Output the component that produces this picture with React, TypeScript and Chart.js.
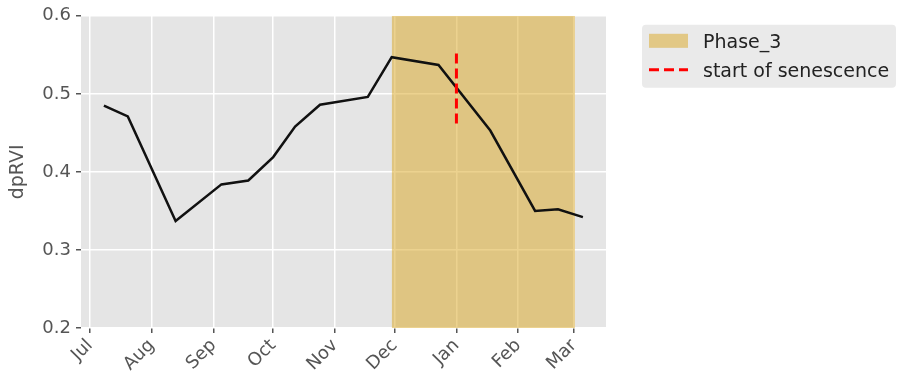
import React, { useEffect, useRef } from 'react';
import { Chart, registerables } from 'chart.js';

Chart.register(...registerables);

// ---- Data ----
const monthLabels = ['Jul', 'Aug', 'Sep', 'Oct', 'Nov', 'Dec', 'Jan', 'Feb', 'Mar'];
// days since 1 July for the first day of each month
const monthStartDays = [0, 31, 62, 92, 123, 153, 184, 215, 243];
// observation dates (days since 1 July)
const obsDays = [7, 19, 43, 66, 79.5, 92, 103, 115.5, 139.5, 151.5, 175, 201, 223.5, 235, 247.5];
const dpRVI = [0.485, 0.471, 0.337, 0.384, 0.389, 0.419, 0.458, 0.486, 0.496, 0.547, 0.537, 0.453, 0.35, 0.352, 0.342];
const phase3Start = 151.5;
const phase3End = 243.5;
const senescenceDay = 184;
const senescenceLow = 0.462;
const senescenceHigh = 0.553;
const yMin = 0.2;
const yMax = 0.6;
const xMin = -4.5;
const xMax = 259.1;

const FONT = "'DejaVu Sans', sans-serif";
const PHASE_COLOR = 'rgba(218,165,32,0.5)';

const bgPlugin = {
  id: 'ggBackground',
  beforeDraw(chart: any) {
    const { ctx, chartArea } = chart;
    ctx.save();
    ctx.fillStyle = '#e5e5e5';
    ctx.fillRect(chartArea.left, chartArea.top, chartArea.right - chartArea.left, chartArea.bottom - chartArea.top);
    ctx.restore();
  },
};

const legendPlugin = {
  id: 'boxLegend',
  afterDraw(chart: any) {
    const { ctx, chartArea } = chart;
    const ds = chart.data.datasets;
    const x = chartArea.right + 36;
    const y = chartArea.top + 9;
    const w = 254;
    const h = 63;
    ctx.save();
    ctx.fillStyle = '#eaeaea';
    ctx.beginPath();
    ctx.roundRect(x, y, w, h, 4);
    ctx.fill();

    // Phase_3 patch
    ctx.fillStyle = ds[2].backgroundColor;
    ctx.fillRect(x + 7, y + 9, 39, 14);

    // senescence dashed line
    ctx.strokeStyle = ds[0].borderColor;
    ctx.lineWidth = 3;
    ctx.setLineDash([10, 5]);
    ctx.beginPath();
    ctx.moveTo(x + 7, y + 45);
    ctx.lineTo(x + 46, y + 45);
    ctx.stroke();
    ctx.setLineDash([]);

    ctx.fillStyle = '#222';
    ctx.font = `19px ${FONT}`;
    ctx.textBaseline = 'alphabetic';
    ctx.textAlign = 'left';
    ctx.fillText(ds[2].label, x + 61, y + 23);
    ctx.fillText(ds[0].label, x + 61, y + 52);
    ctx.restore();
  },
};

export default function App() {
  const canvasRef = useRef<HTMLCanvasElement | null>(null);

  useEffect(() => {
    if (!canvasRef.current) return;
    const seriesPoints = obsDays.map((d, i) => ({ x: d, y: dpRVI[i] }));
    const chart = new Chart(canvasRef.current, {
      type: 'line',
      data: {
        datasets: [
          {
            label: 'start of senescence',
            data: [
              { x: senescenceDay, y: senescenceLow },
              { x: senescenceDay, y: senescenceHigh },
            ],
            borderColor: '#ff0000',
            borderWidth: 3,
            borderDash: [10, 5],
            pointRadius: 0,
            fill: false,
          },
          {
            label: 'dpRVI',
            data: seriesPoints,
            borderColor: '#111111',
            borderWidth: 2.5,
            pointRadius: 0,
            tension: 0,
            fill: false,
          },
          {
            label: 'Phase_3',
            data: [
              { x: phase3Start, y: yMax },
              { x: phase3End, y: yMax },
            ],
            borderWidth: 0,
            borderColor: 'rgba(0,0,0,0)',
            backgroundColor: PHASE_COLOR,
            pointRadius: 0,
            fill: 'start',
          },
        ],
      },
      options: {
        animation: false,
        responsive: true,
        maintainAspectRatio: false,
        layout: { padding: { left: 0, top: 15, right: 296, bottom: 0 } },
        plugins: {
          legend: { display: false },
          tooltip: { enabled: false },
        },
        scales: {
          x: {
            type: 'linear',
            min: xMin,
            max: xMax,
            afterBuildTicks: (scale: any) => {
              scale.ticks = monthStartDays.map((v) => ({ value: v }));
            },
            afterFit: (scale: any) => {
              scale.height = 58;
            },
            ticks: {
              autoSkip: false,
              minRotation: 45,
              maxRotation: 45,
              padding: 2,
              color: '#555555',
              font: { family: FONT, size: 18 },
              callback: (value: any) => {
                const i = monthStartDays.indexOf(Number(value));
                return i >= 0 ? monthLabels[i] : '';
              },
            },
            grid: {
              color: '#ffffff',
              lineWidth: 1.5,
              drawTicks: true,
              tickLength: 5,
              tickColor: '#555555',
            },
            border: { display: false },
          },
          y: {
            type: 'linear',
            min: yMin,
            max: yMax,
            afterFit: (scale: any) => {
              scale.width = 81;
            },
            ticks: {
              stepSize: 0.1,
              padding: 5,
              color: '#555555',
              font: { family: FONT, size: 18 },
              callback: (value: any) => Number(value).toFixed(1),
            },
            grid: {
              color: '#ffffff',
              lineWidth: 1.5,
              drawTicks: true,
              tickLength: 5,
              tickColor: '#555555',
            },
            border: { display: false },
            title: {
              display: true,
              text: 'dpRVI',
              color: '#555555',
              font: { family: FONT, size: 19 },
              padding: { top: 7, bottom: 0 },
            },
          },
        },
      },
      plugins: [bgPlugin, legendPlugin],
    });
    return () => chart.destroy();
  }, []);

  return (
    <div style={{ position: 'absolute', left: 0, top: 0, width: 902, height: 386, background: '#fff' }}>
      <canvas ref={canvasRef} />
    </div>
  );
}
